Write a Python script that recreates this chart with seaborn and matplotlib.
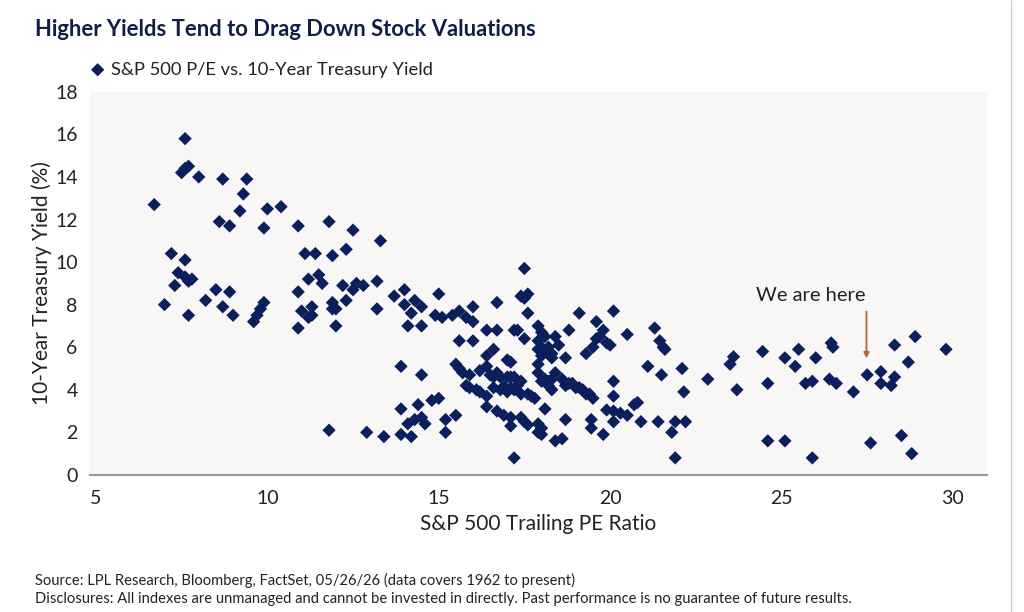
import matplotlib
matplotlib.use("Agg")
import matplotlib.pyplot as plt
import seaborn as sns
import pandas as pd
from matplotlib.lines import Line2D

# S&P 500 trailing P/E vs 10-year Treasury yield
pe_ratio = [
    7.6, 7.5, 7.6, 7.7, 8.0, 8.7, 9.4, 9.3, 6.7, 9.2, 10.0, 10.4, 9.9, 8.6, 8.9, 10.9, 11.8, 12.5, 13.3,
    7.2, 7.6, 7.4, 7.6, 7.8, 7.7, 7.3, 8.5, 8.9, 8.2, 7.0, 8.7, 9.0, 7.7, 9.9, 9.8, 9.7, 9.6, 10.9, 10.9,
    11.1, 11.4, 11.9, 12.3, 11.2, 11.5, 11.6, 12.2, 12.5, 12.6, 12.8, 13.2, 11.0, 11.3, 11.3, 11.2,
    11.9, 11.9, 12.0, 12.3, 12.0, 13.2, 11.8, 12.9, 13.4,
    13.7, 14.0, 14.0, 14.3, 14.5, 14.2, 15.0, 14.9, 15.1, 15.4, 15.6, 15.8, 16.0, 16.0, 14.1, 14.5,
    13.9, 14.5, 13.9, 14.4, 14.5, 14.3, 14.1, 14.6, 14.8, 15.0, 13.9, 14.2, 15.2, 15.2, 15.5,
    15.6, 16.0, 15.5, 15.6, 15.7, 15.9, 15.8, 15.9, 16.1,
    17.5, 17.6, 17.5, 17.4, 17.6, 16.7,
    16.4, 16.7, 17.2, 17.3, 17.5, 17.9, 18.0, 17.9, 18.0, 18.1, 18.3, 18.0, 17.9, 18.1, 18.2, 18.3,
    17.9, 18.4, 18.5, 18.7, 18.8,
    16.6, 16.4, 17.0, 17.1,
    16.2, 16.4, 16.5, 16.6, 16.7, 16.8, 17.0, 17.1, 17.2, 17.3, 17.4,
    16.2, 16.6, 16.8, 16.9, 17.0, 17.1, 17.2, 17.4, 17.6, 17.7, 17.8,
    17.9, 18.0, 18.1, 18.2, 18.3, 18.3, 18.4, 18.6, 18.7, 18.9, 19.0, 19.1, 19.2, 19.3, 19.4, 19.5,
    18.2, 18.8,
    16.4, 16.4, 16.7, 16.9, 17.1, 17.4, 17.5, 17.6, 17.1, 17.9, 18.0, 17.9, 18.0, 18.1, 18.4, 18.6,
    18.7, 17.2,
    19.1, 19.6, 19.8, 19.7, 19.6, 19.3, 19.5, 19.9,
    19.45, 19.45, 19.8, 19.9,
    20.1, 20.5, 20.0, 21.3, 21.45, 21.55, 21.6, 21.1, 21.5, 22.1, 22.85, 23.5, 23.6, 23.7, 22.15,
    20.1, 20.1, 20.1, 20.3, 20.5, 20.7, 20.8, 20.9, 20.1, 21.4, 21.8, 21.9, 22.2, 21.9,
    24.45, 24.6, 25.1, 25.4, 25.5, 26.0, 25.7, 25.9, 26.45, 26.5, 26.4, 26.6, 27.1, 27.5, 27.9,
    27.9, 28.3, 28.2, 28.3, 28.7, 28.9, 29.8, 24.6, 25.1, 25.9, 27.6, 28.5, 28.8,
]
treasury_yield = [
    15.8, 14.2, 14.4, 14.5, 14.0, 13.9, 13.9, 13.2, 12.7, 12.4, 12.5, 12.6, 11.6, 11.9, 11.7, 11.7, 11.9, 11.5, 11.0,
    10.4, 10.1, 9.5, 9.3, 9.2, 9.1, 8.9, 8.7, 8.6, 8.2, 8.0, 7.9, 7.5, 7.5, 8.1, 7.8, 7.5, 7.2, 8.6, 6.9,
    10.4, 10.4, 10.3, 10.6, 9.2, 9.4, 9.0, 8.9, 8.7, 9.0, 8.9, 9.1, 7.7, 7.5, 7.9, 7.4,
    8.1, 7.8, 7.8, 8.2, 7.0, 7.8, 2.1, 2.0, 1.8,
    8.4, 8.7, 8.0, 8.2, 7.9, 7.6, 8.5, 7.5, 7.4, 7.5, 7.7, 7.4, 7.9, 7.2, 7.0, 7.0,
    5.1, 4.7, 3.1, 3.3, 2.7, 2.6, 2.4, 2.4, 3.5, 3.6, 1.9, 1.8, 2.6, 2.0, 2.8,
    6.3, 6.3, 5.2, 5.0, 4.8, 4.7, 4.2, 4.1, 4.0,
    9.7, 8.5, 8.3, 8.4, 7.6, 8.1,
    6.8, 6.8, 6.8, 6.8, 6.4, 7.0, 6.7, 6.3, 6.0, 5.8, 5.5, 5.6, 5.2, 6.5, 6.0, 5.7,
    5.9, 6.5, 6.1, 5.5, 6.8,
    5.9, 5.6, 5.4, 5.3,
    4.9, 5.1, 4.7, 4.6, 4.8, 4.6, 4.6, 4.6, 4.6, 4.2, 4.4,
    3.9, 4.1, 4.0, 4.15, 3.9, 4.1, 4.0, 3.8, 3.8, 3.7, 3.6,
    4.8, 4.4, 4.5, 4.2, 4.0, 4.5, 4.8, 4.5, 4.2, 4.3, 4.1, 4.1, 4.0, 3.8, 3.8, 3.6,
    4.4, 4.3,
    3.7, 3.2, 3.0, 2.8, 2.7, 2.7, 2.5, 2.35, 2.3, 2.4, 2.2, 2.0, 1.9, 3.1, 1.6, 1.7,
    2.6, 0.8,
    7.6, 7.2, 6.8, 6.5, 6.4, 5.7, 6.0, 6.2,
    2.6, 2.2, 1.9, 3.05,
    7.7, 6.6, 6.1, 6.9, 6.3, 6.0, 5.9, 5.1, 4.7, 5.0, 4.5, 5.2, 5.55, 4.0, 3.9,
    4.4, 3.7, 3.0, 2.9, 2.8, 3.3, 3.4, 2.5, 2.5, 2.5, 2.0, 2.5, 2.5, 0.8,
    5.8, 4.3, 5.5, 5.1, 5.9, 5.5, 4.3, 4.4, 6.2, 6.0, 4.5, 4.3, 3.9, 4.7, 4.85,
    4.3, 4.6, 4.2, 6.1, 5.3, 6.5, 5.9, 1.6, 1.6, 0.8, 1.5, 1.85, 1.0,
]

x_ticks = [5, 10, 15, 20, 25, 30]
y_ticks = [0, 2, 4, 6, 8, 10, 12, 14, 16, 18]

navy = "#0b1f5c"
text_dark = "#222222"

df = pd.DataFrame({"pe": pe_ratio, "yld": treasury_yield})

sns.set_style("white")
plt.rcParams["font.family"] = ["Lato", "DejaVu Sans"]

fig = plt.figure(figsize=(10.24, 6.12), dpi=100)
ax = fig.add_axes([0.088, 0.224, 0.876, 0.626])
ax.set_facecolor("#f8f7f6")

sns.scatterplot(data=df, x="pe", y="yld", marker="D", color=navy, s=46,
                edgecolor="none", ax=ax, label="S&P 500 P/E vs. 10-Year Treasury Yield")

ax.set_xlim(4.83, 31.0)
ax.set_ylim(0, 18)
ax.set_xticks(x_ticks)
ax.set_yticks(y_ticks)
ax.tick_params(axis="both", length=0, labelsize=14, colors=text_dark)
ax.tick_params(axis="x", pad=11)
ax.tick_params(axis="y", pad=9)

for side in ["top", "right", "left"]:
    ax.spines[side].set_visible(False)
ax.spines["bottom"].set_color("#9a9a9a")
ax.spines["bottom"].set_linewidth(1.5)

ax.set_xlabel("S&P 500 Trailing PE Ratio", fontsize=15, color=text_dark, labelpad=5)
ax.set_ylabel("10-Year Treasury Yield (%)", fontsize=15, color=text_dark, labelpad=2)

leg = ax.legend(loc="lower left", bbox_to_anchor=(-0.01, 1.018), frameon=False,
                fontsize=13.2, handletextpad=0.25, handlelength=1.0, borderaxespad=0.0)
for t in leg.get_texts():
    t.set_color(text_dark)

# annotation
ax.text(25.85, 8.45, "We are here", ha="center", va="center", fontsize=14.5, color=text_dark)
ax.annotate("", xy=(27.48, 5.35), xytext=(27.48, 7.8),
            arrowprops=dict(arrowstyle="-|>", color="#b8652a", lw=1.3, mutation_scale=8))

fig.text(0.034, 0.951, "Higher Yields Tend to Drag Down Stock Valuations", fontsize=15.8,
         fontweight="bold", color="#0f1f45", va="center")
fig.text(0.034, 0.052, "Source: LPL Research, Bloomberg, FactSet, 05/26/26 (data covers 1962 to present)",
         fontsize=10.6, color=text_dark, va="center")
fig.text(0.034, 0.022, "Disclosures: All indexes are unmanaged and cannot be invested in directly. "
         "Past performance is no guarantee of future results.", fontsize=10.6, color=text_dark, va="center")

fig.add_artist(Line2D([0.987, 0.987], [0, 1], transform=fig.transFigure, color="#d0d0d0", lw=1))

fig.savefig("out.png", dpi=100, facecolor="white")
